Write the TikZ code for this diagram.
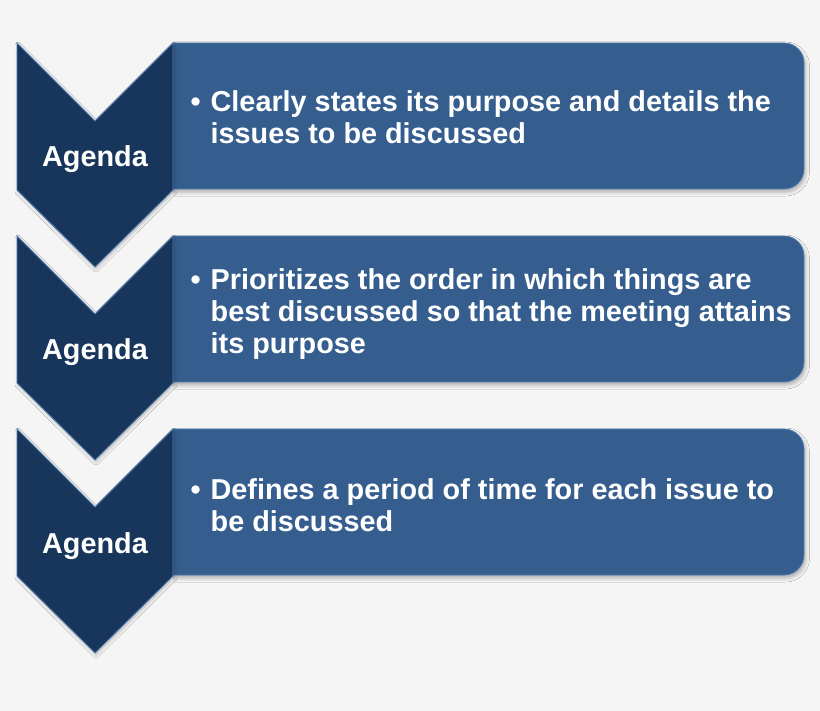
\documentclass[tikz,border=0pt]{standalone}
\usepackage{fontspec}
\setmainfont{Liberation Sans}
\usetikzlibrary{shadows.blur}
\definecolor{bgc}{HTML}{F5F5F5}
\definecolor{navyc}{HTML}{18365C}
\definecolor{boxc}{HTML}{355E8F}
\definecolor{edgec}{HTML}{5079AC}
\tikzset{
  panel/.style={fill=boxc, draw=edgec, line width=0.8pt, rounded corners=20pt,
    blur shadow={shadow xshift=1.5pt, shadow yshift=-3pt, shadow blur radius=4pt, shadow opacity=30}},
  chev/.style={fill=navyc, draw=edgec, line width=0.8pt, line join=miter,
    blur shadow={shadow xshift=1pt, shadow yshift=-2pt, shadow blur radius=3pt, shadow opacity=25}},
  lbl/.style={text=white, font=\bfseries\fontsize{28.8}{32}\selectfont, inner sep=0pt},
  body/.style={lbl, align=left, anchor=base west},
}
\newcommand{\bul}{\makebox[0pt][r]{\textbullet\hspace{10pt}}}
\newcommand{\stage}[1]{%
  \begin{scope}
    \clip (173,0) rectangle (820,711);
    \path[panel] (140,#1) rectangle (804,#1+146);
  \end{scope}
  \path[chev] (17,#1) -- (95,#1+78) -- (173,#1) -- (173,#1+147) -- (95,#1+224) -- (17,#1+147) -- cycle;
}
\begin{document}
\begin{tikzpicture}[x=1pt,y=-1pt]
  \fill[bgc] (0,0) rectangle (820,711);
  \useasboundingbox (0,0) rectangle (820,711);
  \stage{43}
  \stage{236}
  \stage{429}
  \node[lbl, anchor=base] (ag1) at (95,167) {Agenda};
  \node[lbl, anchor=base] (ag2) at (95,360) {Agenda};
  \node[lbl, anchor=base] (ag3) at (95,553) {Agenda};
  \node[body] (tx1) at (210.5,144) {\bul Clearly states its purpose and details the\\issues to be discussed};
  \node[body] (tx2) at (210.5,354) {\bul Prioritizes the order in which things are\\best discussed so that the meeting attains\\its purpose};
  \node[body] (tx3) at (210.5,531) {\bul Defines a period of time for each issue to\\be discussed};
\end{tikzpicture}
\end{document}
